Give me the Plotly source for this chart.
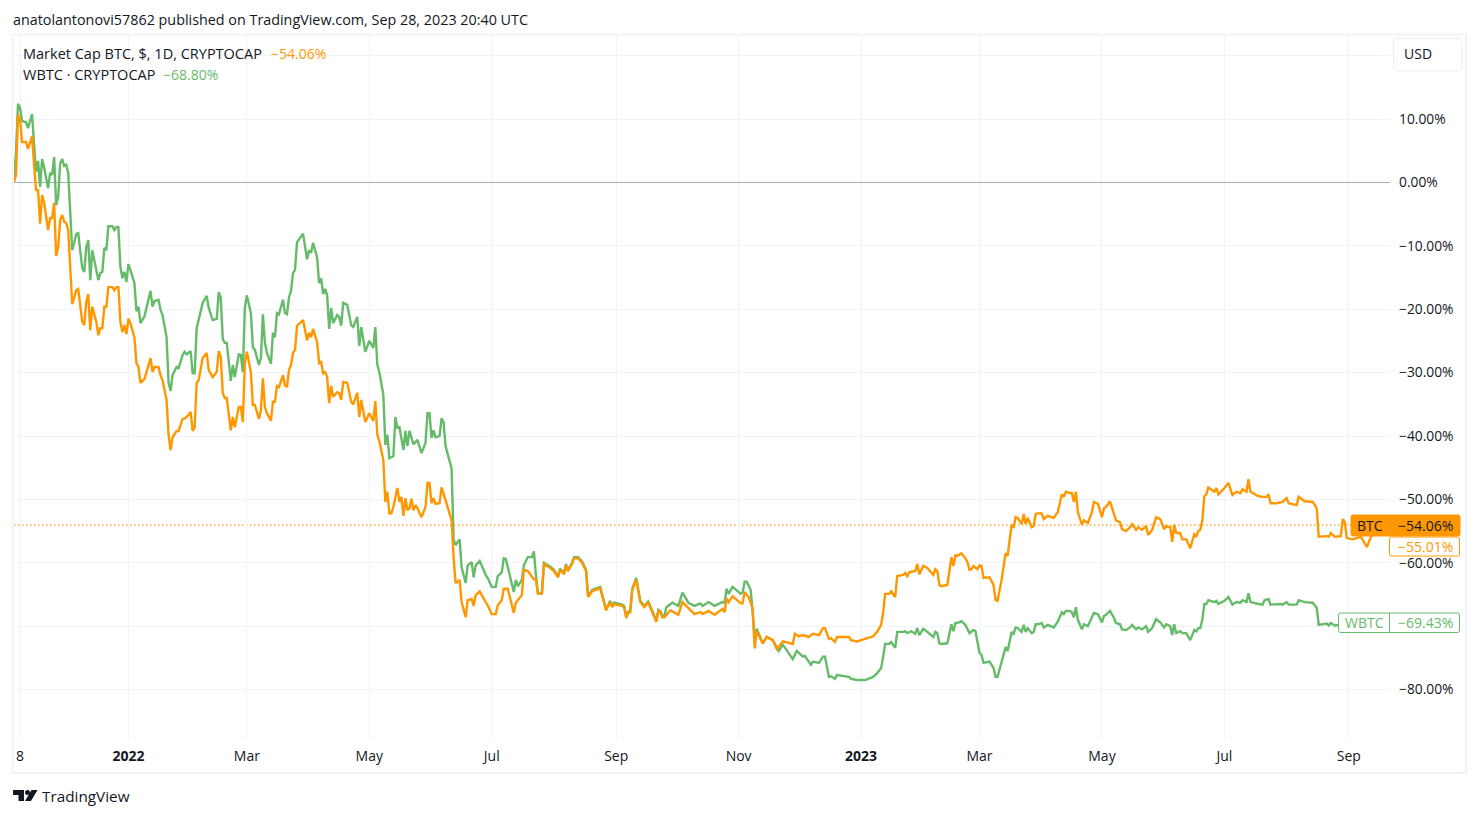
import pandas as pd
import plotly.graph_objects as go

START_DATE = pd.Timestamp("2021-11-05")

# values: days since START_DATE, percent change
btc_days = [
    0, 1, 2, 3, 4, 6, 7, 9, 10, 11, 12, 13, 14, 15, 17, 18, 19, 20, 21, 22, 23, 24, 25, 26, 27, 29, 30, 31, 32, 34,
    35, 36, 37, 38, 39, 41, 42, 43, 44, 45, 46, 47, 49, 50, 51, 52, 53, 54, 55, 56, 57, 58, 60, 61, 62, 63, 65, 68, 69, 70,
    72, 73, 74, 76, 77, 78, 79, 81, 82, 84, 85, 86, 88, 89, 90, 91, 92, 94, 96, 97, 99, 101, 102, 103, 104, 105, 106, 108, 109, 110,
    112, 113, 114, 115, 116, 118, 119, 120, 122, 123, 124, 125, 126, 128, 129, 130, 131, 132, 134, 135, 136, 137, 138, 139, 140, 141, 144, 146, 147, 148,
    149, 151, 152, 153, 154, 155, 156, 157, 158, 159, 161, 162, 163, 164, 166, 168, 169, 171, 172, 173, 175, 177, 179, 180, 181, 182, 184, 185, 186, 187,
    188, 189, 191, 192, 193, 194, 195, 196, 197, 198, 199, 200, 201, 203, 205, 206, 207, 208, 209, 210, 212, 213, 215, 218, 219, 220, 222, 223, 225, 226,
    228, 229, 230, 232, 235, 236, 238, 240, 241, 243, 244, 246, 249, 250, 253, 254, 256, 257, 259, 260, 261, 263, 264, 267, 269, 271, 272, 274, 275, 276,
    278, 279, 281, 283, 285, 286, 288, 292, 294, 295, 297, 298, 299, 303, 304, 305, 306, 307, 308, 310, 312, 314, 316, 318, 320, 321, 322, 323, 324, 327,
    331, 333, 336, 339, 342, 343, 346, 349, 353, 354, 355, 356, 358, 362, 363, 364, 366, 368, 369, 370, 373, 375, 378, 380, 383, 388, 389, 391, 393, 396,
    398, 401, 403, 404, 406, 407, 409, 410, 416, 417, 420, 424, 428, 430, 432, 433, 434, 436, 437, 439, 440, 443, 444, 445, 446, 449, 450, 451, 453, 455,
    458, 459, 460, 461, 462, 465, 467, 468, 469, 470, 472, 474, 475, 476, 477, 478, 480, 481, 482, 483, 486, 488, 489, 490, 492, 494, 495, 497, 498, 499,
    500, 502, 503, 504, 505, 507, 508, 509, 510, 512, 513, 515, 518, 520, 522, 523, 524, 526, 527, 528, 529, 530, 532, 533, 535, 537, 538, 540, 542, 543,
    544, 546, 548, 549, 551, 552, 554, 556, 557, 559, 560, 562, 564, 565, 567, 569, 571, 573, 574, 576, 577, 578, 579, 581, 582, 584, 586, 588, 589, 590,
    591, 592, 593, 594, 595, 598, 599, 600, 603, 605, 607, 609, 611, 612, 614, 615, 616, 620, 622, 624, 625, 626, 629, 631, 632, 634, 635, 639, 640, 643,
    647, 649, 650, 654, 655, 656, 658, 661, 662, 663, 664, 667, 671, 674, 676, 679, 682, 685,
]
btc_pct = [
    0.1, 1.2, 10.7, 9.9, 6.4, 6.4, 5.3, 7.3, 2.8, -1.2, -1.2, -6.5, -2.0, -3.2, -7.5, -5.6, -5.6, -3.2, -11.6, -10.3, -5.9, -5.1, -6.2, -6.4, -7.5, -19.2, -18.2, -17.0, -16.8, -22.0,
    -22.5, -18.9, -17.6, -23.3, -19.6, -22.0, -24.1, -23.0, -23.0, -19.6, -19.6, -16.5, -16.5, -17.0, -16.5, -16.5, -22.0, -23.6, -22.5, -23.9, -21.5, -22.2, -24.5, -28.5, -29.1, -31.6, -31.0, -27.7, -29.9, -29.1,
    -29.1, -30.4, -31.2, -34.3, -39.8, -42.2, -40.2, -39.2, -39.2, -37.3, -37.2, -37.0, -36.2, -39.2, -38.6, -31.6, -31.2, -27.7, -26.9, -29.6, -30.7, -29.9, -26.6, -27.5, -33.2, -34.0, -34.0, -39.1, -37.0, -38.6,
    -35.4, -35.4, -37.8, -28.5, -26.7, -29.9, -35.1, -35.1, -37.3, -35.9, -30.9, -35.4, -36.4, -37.6, -34.6, -34.6, -32.1, -32.3, -30.4, -32.0, -32.3, -29.6, -28.8, -26.9, -26.4, -22.6, -21.7, -24.9, -23.7, -24.4,
    -23.1, -25.2, -28.5, -28.3, -30.1, -29.9, -30.7, -34.8, -32.1, -33.8, -33.1, -33.2, -34.3, -31.5, -31.6, -34.6, -35.0, -33.2, -37.0, -34.3, -37.8, -36.4, -37.6, -34.5, -39.8, -40.8, -43.8, -50.4, -48.8, -52.2,
    -52.2, -51.2, -48.2, -50.4, -49.6, -52.6, -49.8, -51.7, -51.4, -49.9, -51.7, -50.9, -51.4, -52.8, -51.2, -47.4, -47.4, -50.6, -49.8, -50.7, -50.6, -48.1, -50.1, -53.3, -59.1, -63.2, -62.7, -66.2, -68.6, -65.9,
    -65.7, -66.8, -65.1, -64.5, -66.2, -66.7, -68.1, -68.1, -66.7, -65.9, -64.1, -64.1, -67.9, -66.3, -65.1, -61.1, -61.3, -61.8, -62.6, -62.6, -64.8, -64.8, -60.2, -60.8, -61.3, -62.3, -61.1, -61.8, -60.4, -61.3,
    -60.2, -59.3, -59.3, -60.0, -61.3, -65.4, -64.5, -64.0, -66.3, -67.5, -66.2, -67.0, -66.5, -66.8, -67.0, -68.7, -67.9, -67.8, -64.3, -62.7, -66.2, -67.0, -66.3, -67.9, -69.3, -67.6, -67.8, -68.6, -68.6, -67.5,
    -68.2, -66.2, -67.2, -68.1, -67.8, -68.1, -67.6, -68.2, -67.3, -67.8, -65.6, -66.2, -65.3, -66.4, -66.4, -64.6, -65.4, -67.2, -73.5, -70.8, -72.7, -71.7, -72.2, -73.6, -72.4, -72.8, -71.2, -71.6, -71.4, -71.7,
    -71.2, -71.4, -70.3, -70.3, -72.0, -71.9, -72.5, -71.7, -71.7, -72.2, -72.4, -72.0, -71.6, -70.9, -69.8, -67.8, -64.9, -64.9, -64.5, -65.4, -62.1, -61.9, -61.6, -62.1, -61.5, -61.3, -60.2, -61.8, -60.5, -60.8,
    -61.9, -61.0, -61.3, -63.5, -63.7, -63.5, -59.1, -60.5, -58.8, -58.9, -58.5, -59.3, -59.9, -61.1, -61.0, -60.5, -61.0, -60.4, -60.5, -62.4, -62.3, -63.5, -65.9, -66.0, -62.7, -58.5, -58.9, -54.0, -54.5, -52.8,
    -52.9, -53.9, -52.3, -53.9, -52.9, -54.4, -54.2, -52.3, -52.2, -52.2, -53.1, -52.6, -52.9, -52.0, -49.2, -49.6, -48.8, -49.0, -49.0, -50.4, -48.8, -52.0, -54.0, -53.3, -53.7, -52.0, -50.4, -50.7, -52.8, -51.4,
    -51.2, -50.3, -52.2, -53.3, -53.6, -54.7, -55.0, -54.4, -53.9, -54.8, -54.4, -54.8, -54.2, -55.6, -54.8, -52.8, -53.1, -54.7, -54.2, -54.4, -56.7, -54.0, -55.3, -55.3, -56.3, -56.3, -57.7, -55.5, -55.8, -55.0,
    -54.8, -53.3, -49.5, -49.2, -48.1, -48.8, -48.2, -49.2, -48.2, -47.4, -49.3, -48.8, -49.0, -48.4, -48.8, -46.8, -48.8, -49.5, -49.6, -49.6, -49.2, -50.6, -50.6, -50.4, -50.4, -49.8, -50.6, -50.9, -49.6, -50.3,
    -50.4, -51.4, -55.9, -55.8, -55.9, -55.3, -55.9, -55.8, -53.1, -53.6, -56.1, -56.3, -55.9, -57.5, -55.9, -54.8, -55.2, -55.0,
]

wbtc_days = [
    0, 1, 2, 3, 4, 6, 7, 9, 10, 11, 12, 13, 14, 15, 17, 18, 19, 20, 21, 22, 23, 24, 25, 26, 27, 29, 30, 31, 32, 34,
    35, 36, 37, 38, 39, 41, 42, 43, 44, 45, 46, 47, 49, 50, 51, 52, 53, 54, 55, 56, 57, 58, 60, 61, 62, 63, 65, 68, 69, 70,
    72, 73, 74, 76, 77, 78, 79, 81, 82, 84, 85, 86, 88, 89, 90, 91, 92, 94, 96, 97, 99, 101, 102, 103, 104, 105, 106, 108, 109, 110,
    112, 113, 114, 115, 116, 118, 119, 120, 122, 123, 124, 125, 126, 128, 129, 130, 131, 132, 134, 135, 136, 137, 138, 139, 140, 141, 144, 146, 147, 148,
    149, 151, 152, 153, 154, 155, 156, 157, 158, 159, 161, 162, 163, 164, 166, 168, 169, 171, 172, 173, 175, 177, 179, 180, 181, 182, 184, 185, 186, 187,
    189, 190, 191, 192, 194, 195, 196, 197, 199, 201, 203, 205, 206, 207, 208, 209, 210, 212, 213, 214, 215, 217, 218, 219, 220, 222, 223, 225, 226, 228,
    229, 230, 232, 235, 236, 238, 240, 241, 243, 244, 245, 249, 250, 251, 253, 254, 256, 258, 259, 260, 261, 263, 264, 267, 269, 271, 272, 274, 275, 276,
    278, 279, 281, 283, 285, 286, 288, 292, 294, 295, 297, 298, 299, 303, 304, 305, 306, 307, 308, 310, 312, 314, 316, 318, 320, 321, 322, 323, 324, 325,
    328, 331, 333, 336, 339, 342, 343, 346, 349, 353, 354, 355, 356, 358, 362, 363, 364, 365, 367, 368, 369, 370, 373, 375, 378, 381, 383, 388, 390, 393,
    394, 397, 398, 401, 403, 404, 406, 407, 409, 410, 416, 417, 420, 424, 428, 430, 432, 433, 434, 436, 437, 439, 440, 443, 444, 445, 447, 449, 450, 451,
    453, 455, 458, 459, 460, 461, 462, 465, 467, 468, 469, 470, 472, 474, 476, 478, 479, 481, 482, 483, 486, 488, 489, 490, 492, 494, 495, 497, 498, 499,
    500, 502, 503, 504, 505, 507, 508, 509, 510, 512, 513, 515, 518, 520, 522, 523, 524, 526, 527, 528, 529, 530, 532, 533, 535, 537, 538, 540, 542, 543,
    544, 546, 548, 549, 551, 552, 554, 556, 557, 559, 560, 562, 564, 565, 567, 569, 571, 573, 574, 576, 577, 578, 579, 581, 582, 584, 586, 588, 589, 590,
    591, 592, 593, 594, 595, 598, 599, 600, 603, 605, 607, 609, 611, 612, 614, 615, 616, 620, 622, 623, 625, 626, 629, 631, 632, 634, 635, 639, 640, 643,
    647, 649, 650, 654, 655, 656, 658, 661, 665, 670, 674, 676, 682, 685,
]
wbtc_pct = [
    0.4, 4.8, 12.4, 11.8, 9.7, 9.5, 8.6, 10.8, 5.9, 1.7, 3.4, -0.7, 3.7, 2.4, -0.9, 1.5, 1.2, 4.0, -3.6, -2.3, 2.9, 3.7, 2.6, 2.8, 1.5, -10.7, -9.5, -8.1, -8.0, -13.5,
    -14.1, -10.2, -9.1, -15.4, -10.7, -13.5, -15.4, -14.3, -14.1, -10.3, -10.7, -6.9, -6.9, -7.5, -7.0, -7.0, -13.3, -15.1, -14.1, -15.7, -12.9, -13.8, -15.9, -20.3, -19.6, -22.2, -21.1, -17.1, -19.6, -18.7,
    -18.5, -20.1, -20.9, -24.4, -31.6, -32.9, -30.4, -29.1, -29.3, -27.2, -26.7, -27.1, -26.6, -30.1, -30.1, -23.0, -21.7, -19.0, -17.9, -19.8, -21.7, -21.5, -17.3, -18.2, -24.7, -25.3, -25.3, -31.3, -28.8, -30.7,
    -27.1, -27.2, -29.9, -19.8, -17.8, -20.6, -26.0, -26.4, -28.8, -27.7, -20.8, -25.3, -26.9, -28.6, -23.7, -24.4, -20.6, -20.8, -18.5, -20.6, -20.8, -18.1, -17.1, -14.3, -13.8, -9.4, -8.1, -12.1, -10.7, -11.1,
    -9.5, -11.8, -15.9, -15.1, -17.6, -16.8, -17.8, -23.1, -19.8, -22.2, -20.9, -21.2, -22.6, -19.0, -19.3, -22.5, -22.8, -21.2, -25.8, -22.8, -26.7, -25.0, -26.1, -22.8, -28.8, -29.9, -33.5, -41.4, -39.8, -43.5,
    -43.2, -37.0, -38.7, -38.6, -42.2, -39.2, -41.6, -39.2, -41.3, -40.6, -42.7, -41.1, -36.4, -36.4, -40.3, -39.1, -40.2, -40.0, -37.2, -37.8, -41.6, -43.8, -45.1, -56.4, -57.2, -56.3, -60.7, -63.2, -60.4, -59.9,
    -62.3, -60.4, -59.7, -61.9, -62.4, -63.8, -63.8, -62.1, -61.5, -59.3, -59.4, -64.6, -62.7, -63.7, -62.7, -60.4, -59.1, -59.1, -58.2, -61.9, -64.8, -64.8, -60.0, -60.6, -61.1, -62.1, -60.9, -61.6, -60.2, -61.1,
    -60.0, -59.1, -59.1, -59.8, -61.1, -65.3, -64.3, -63.8, -66.2, -67.4, -66.0, -66.8, -66.3, -66.6, -66.8, -68.5, -67.7, -67.6, -64.1, -62.4, -66.0, -66.8, -66.1, -67.7, -69.1, -67.4, -67.6, -68.4, -68.4, -67.0,
    -66.3, -66.8, -64.7, -66.3, -66.8, -66.4, -66.8, -66.2, -66.8, -66.2, -66.3, -64.1, -64.9, -63.8, -64.9, -64.7, -63.0, -63.0, -64.3, -67.9, -72.2, -70.4, -72.7, -71.7, -72.2, -73.9, -72.9, -75.2, -73.9, -74.8,
    -74.7, -76.1, -75.6, -75.8, -74.8, -74.8, -78.0, -77.9, -78.3, -77.7, -78.0, -78.3, -78.5, -78.5, -78.0, -77.4, -76.6, -74.8, -72.8, -72.8, -72.5, -73.4, -70.9, -70.9, -70.8, -71.1, -70.8, -71.2, -70.3, -71.4,
    -70.4, -70.9, -71.7, -70.9, -71.1, -72.7, -72.8, -72.7, -69.7, -70.8, -69.5, -69.5, -69.2, -69.8, -71.1, -70.6, -70.8, -74.2, -74.5, -75.8, -75.6, -76.6, -78.0, -78.0, -75.6, -73.3, -73.9, -70.9, -71.2, -70.2,
    -70.3, -70.9, -69.8, -70.9, -70.3, -71.1, -70.9, -69.7, -69.7, -69.5, -70.2, -69.8, -70.2, -69.3, -67.8, -68.1, -67.6, -67.6, -67.8, -68.6, -67.0, -69.0, -70.5, -69.7, -70.0, -68.6, -67.9, -68.1, -69.4, -68.4,
    -68.2, -67.6, -68.7, -69.5, -69.7, -70.5, -70.6, -70.2, -69.8, -70.5, -70.2, -70.5, -70.0, -70.9, -70.3, -68.9, -69.4, -70.2, -69.7, -70.0, -71.4, -69.7, -71.1, -70.8, -71.1, -71.1, -72.2, -70.6, -70.8, -70.3,
    -70.3, -69.0, -66.5, -66.5, -65.9, -66.2, -66.0, -66.5, -66.0, -65.4, -66.6, -66.2, -66.3, -65.9, -66.2, -64.8, -66.2, -66.5, -66.6, -65.9, -65.7, -66.6, -66.5, -66.5, -66.6, -66.2, -66.6, -66.6, -65.9, -66.2,
    -66.3, -67.1, -69.8, -69.6, -69.9, -69.5, -69.9, -69.8, -69.6, -69.8, -70.6, -69.9, -69.6, -69.4,
]

y_ticks = [20, 10, 0, -10, -20, -30, -40, -50, -60, -70, -80]
y_labels = ["", "10.00%", "0.00%", "\u221210.00%", "\u221220.00%", "\u221230.00%", "\u221240.00%",
            "\u221250.00%", "\u221260.00%", "", "\u221280.00%"]
x_ticks = ["2021-11-08", "2022-01-01", "2022-03-01", "2022-05-01", "2022-07-01", "2022-09-01",
           "2022-11-01", "2023-01-01", "2023-03-01", "2023-05-01", "2023-07-01", "2023-09-01"]
x_labels = ["8", "<b>2022</b>", "Mar", "May", "Jul", "Sep", "Nov", "<b>2023</b>", "Mar", "May", "Jul", "Sep"]

last_btc = -54.06

ORANGE = "#ff9800"
GREEN = "#66bb6a"
TEXT = "#131722"
GRID = "#f0f3fa"
FONT = "Open Sans"

# plot area inside the 1479x817 page
LEFT, RIGHT, TOP, BOTTOM = 14, 1390, 35, 739


def px_x(x):
    return (x - LEFT) / (RIGHT - LEFT)


def px_y(y):
    return (BOTTOM - y) / (BOTTOM - TOP)


def box(x0, y0, x1, y1, fill, line, width=1, rad=2):
    path = (
        f"M {px_x(x0 + rad)} {px_y(y0)} L {px_x(x1 - rad)} {px_y(y0)} "
        f"Q {px_x(x1)} {px_y(y0)} {px_x(x1)} {px_y(y0 + rad)} "
        f"L {px_x(x1)} {px_y(y1 - rad)} Q {px_x(x1)} {px_y(y1)} {px_x(x1 - rad)} {px_y(y1)} "
        f"L {px_x(x0 + rad)} {px_y(y1)} Q {px_x(x0)} {px_y(y1)} {px_x(x0)} {px_y(y1 - rad)} "
        f"L {px_x(x0)} {px_y(y0 + rad)} Q {px_x(x0)} {px_y(y0)} {px_x(x0 + rad)} {px_y(y0)} Z"
    )
    return dict(type="path", xref="paper", yref="paper", path=path, fillcolor=fill,
                line=dict(color=line, width=width), layer="above")


def poly(points, fill):
    path = "M " + " L ".join(f"{px_x(x)} {px_y(y)}" for x, y in points) + " Z"
    return dict(type="path", xref="paper", yref="paper", path=path, fillcolor=fill,
                line=dict(width=0), layer="above")


def label(x, y, text, color=TEXT, size=14, anchor="left"):
    # annotations carry 2px of padding, taken back with the shift
    shift = {"left": -2, "center": 0, "right": 2}[anchor]
    return dict(xref="paper", yref="paper", x=px_x(x), y=px_y(y), text=text, showarrow=False,
                xanchor=anchor, yanchor="middle", xshift=shift, align=anchor,
                font=dict(family=FONT, size=size, color=color))


def dates(days):
    return START_DATE + pd.to_timedelta(days, unit="D")


fig = go.Figure()
fig.add_trace(go.Scatter(x=dates(wbtc_days), y=wbtc_pct, mode="lines", name="WBTC",
                         line=dict(color=GREEN, width=2.4)))
fig.add_trace(go.Scatter(x=dates(btc_days), y=btc_pct, mode="lines", name="BTC",
                         line=dict(color=ORANGE, width=2.4)))

shapes = [
    dict(type="line", xref="paper", yref="y", x0=0, x1=px_x(1351), y0=last_btc, y1=last_btc,
         line=dict(color=ORANGE, width=1.4, dash="1.4px,2.6px"), layer="between"),
    # outer frame
    dict(type="rect", xref="paper", yref="paper", x0=px_x(12.5), x1=px_x(1466), y0=px_y(773), y1=px_y(34.5),
         line=dict(color=GRID, width=2), layer="below"),
    box(1393.5, 38.5, 1462, 71, "white", "#ebedf3", rad=5),
    box(1351, 515, 1460, 536, ORANGE, ORANGE),
    box(1389.5, 537, 1459.5, 556, "white", ORANGE),
    box(1338.5, 613, 1459.5, 632.5, "white", GREEN),
    dict(type="line", xref="paper", yref="paper", x0=px_x(1389.5), x1=px_x(1389.5), y0=px_y(613), y1=px_y(632.5),
         line=dict(color=GREEN, width=1), layer="above"),
    # TradingView mark
    poly([(13, 790), (24, 790), (24, 801), (18.5, 801), (18.5, 795), (13, 795)], TEXT),
    poly([(31.5, 790), (37.5, 790), (31, 801), (25, 801)], TEXT),
    dict(type="circle", xref="paper", yref="paper", x0=px_x(25), x1=px_x(30), y0=px_y(795), y1=px_y(790),
         fillcolor=TEXT, line=dict(width=0), layer="above"),
]

annotations = [
    label(13, 19, "anatolantonovi57862 published on TradingView.com, Sep 28, 2023 20:40 UTC", size=14.35),
    label(23, 54, "Market Cap BTC, $, 1D, CRYPTOCAP", size=14.5),
    label(271, 54, "\u221254.06%", color=ORANGE),
    label(23, 75, "WBTC \u00b7 CRYPTOCAP", size=14.5),
    label(163, 75, "\u221268.80%", color=GREEN),
    label(1418, 54, "USD", anchor="center"),
    label(1370, 525.5, "BTC", anchor="center"),
    label(1453, 525.5, "\u221254.06%", anchor="right"),
    label(1453, 546, "\u221255.01%", color=ORANGE, anchor="right"),
    label(1364, 622.5, "WBTC", color=GREEN, anchor="center"),
    label(1453, 622.5, "\u221269.43%", color=GREEN, anchor="right"),
    label(42, 796, "TradingView", size=15.3),
]

fig.update_layout(
    width=1479,
    height=817,
    margin=dict(l=LEFT, r=1479 - RIGHT, t=TOP, b=817 - BOTTOM),
    paper_bgcolor="white",
    plot_bgcolor="white",
    showlegend=False,
    font=dict(family=FONT, size=14, color=TEXT),
    shapes=shapes,
    annotations=annotations,
    xaxis=dict(
        range=[dates([0])[0], dates([685.5])[0]],
        tickmode="array",
        tickvals=x_ticks,
        ticktext=x_labels,
        tickangle=0,
        showgrid=True,
        gridcolor=GRID,
        gridwidth=1,
        zeroline=False,
        showline=False,
        ticks="",
        ticklabelstandoff=7,
    ),
    yaxis=dict(
        side="right",
        range=[-87.8, 23.27],
        tickmode="array",
        tickvals=y_ticks,
        ticktext=y_labels,
        tickfont=dict(size=13.8),
        showgrid=True,
        gridcolor=GRID,
        gridwidth=1,
        zeroline=True,
        zerolinecolor="#a9acb6",
        zerolinewidth=1,
        showline=False,
        ticks="",
        ticklabelstandoff=8,
    ),
)

fig.write_html("out.html", config={"displayModeBar": False}, post_script="document.body.style.margin='0';")
